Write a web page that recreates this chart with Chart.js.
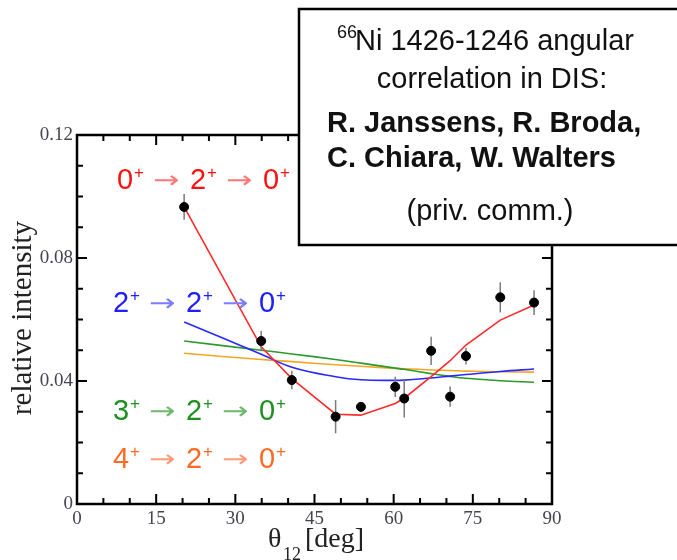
<!DOCTYPE html>
<html>
<head>
<meta charset="utf-8">
<script src="https://cdn.jsdelivr.net/npm/chart.js@4.4.0/dist/chart.umd.min.js"></script>
<style>
  html, body { margin: 0; padding: 0; background: #fff; }
  #wrap { width: 677px; height: 560px; }
</style>
</head>
<body>
<div id="wrap"><canvas id="c" width="677" height="560"></canvas></div>
<script>
// measured angular correlation points
const angles   = [20.3, 34.9, 40.7, 49.0, 53.8, 60.3, 62.0, 67.1, 70.7, 73.7, 80.2, 86.6];
const measured = [0.0966, 0.0530, 0.0403, 0.0284, 0.0316, 0.0381, 0.0343, 0.0498, 0.0349, 0.0481, 0.0672, 0.0655];
const errors   = [0.0042, 0.0033, 0.0030, 0.0054, 0.0016, 0.0033, 0.0062, 0.0046, 0.0033, 0.0027, 0.0049, 0.0040];

// calculated curves at the same angles
const fit020 = [0.0966, 0.0511, 0.0408, 0.0292, 0.0289, 0.0327, 0.0344, 0.0414, 0.0466, 0.0517, 0.0598, 0.0647];
const fit220 = [0.0592, 0.0487, 0.0445, 0.0414, 0.0404, 0.0402, 0.0403, 0.0410, 0.0416, 0.0421, 0.0431, 0.0439];
const fit320 = [0.0530, 0.0500, 0.0488, 0.0470, 0.0458, 0.0442, 0.0438, 0.0424, 0.0415, 0.0409, 0.0401, 0.0396];
const fit420 = [0.0490, 0.0470, 0.0463, 0.0453, 0.0448, 0.0441, 0.0440, 0.0436, 0.0434, 0.0432, 0.0430, 0.0429];

// axis ticks
const xMajor = [0, 15, 30, 45, 60, 75, 90];
const xMinor = [5, 10, 20, 25, 35, 40, 50, 55, 65, 70, 80, 85];
const yMajor = [0, 0.04, 0.08, 0.12];
const yMinor = [0.01, 0.02, 0.03, 0.05, 0.06, 0.07, 0.09, 0.10, 0.11];
const yLabels = ['0', '0.04', '0.08', '0.12'];

function pts(ys){ return angles.map((a, i) => ({x: a, y: ys[i]})); }

const SERIF = "'Liberation Serif', 'Times New Roman', serif";
const SANS = "'Liberation Sans', Arial, sans-serif";

const errorBars = {
    id: 'errorBars',
    beforeDatasetDraw(chart, args){
        if(args.index !== 0) return;
        const ctx = chart.ctx, xs = chart.scales.x, ys = chart.scales.y;
        ctx.save();
        ctx.strokeStyle = '#7a7a7a';
        ctx.lineWidth = 1.5;
        angles.forEach((a, i) => {
            const px = xs.getPixelForValue(a);
            ctx.beginPath();
            ctx.moveTo(px, ys.getPixelForValue(measured[i] - errors[i]));
            ctx.lineTo(px, ys.getPixelForValue(measured[i] + errors[i]));
            ctx.stroke();
        });
        ctx.restore();
    }
};

function drawTransition(ctx, x, y, first, color, arrowColor){
    const digits = [first, '2', '0'];
    digits.forEach((d, i) => {
        const dx = x + i * 73;
        ctx.fillStyle = color;
        ctx.font = '29px ' + SANS;
        ctx.fillText(d, dx, y);
        ctx.font = '17px ' + SANS;
        ctx.fillText('+', dx + 17, y - 11);
        if(i < 2){
            ctx.save();
            ctx.fillStyle = arrowColor;
            ctx.font = '24px "DejaVu Sans"';
            ctx.translate(dx + 36, y - 1);
            ctx.scale(1.32, 1);
            ctx.fillText('\u2192', 0, 0);
            ctx.restore();
        }
    });
}

const frame = {
    id: 'frame',
    afterDraw(chart){
        const ctx = chart.ctx, xs = chart.scales.x, ys = chart.scales.y;
        const a = chart.chartArea;
        ctx.save();
        ctx.strokeStyle = '#000';
        ctx.lineWidth = 2.5;
        ctx.strokeRect(a.left, a.top, a.right - a.left, a.bottom - a.top);
        ctx.lineWidth = 2;
        ctx.beginPath();
        xMajor.concat(xMinor).forEach(v => {
            const len = xMajor.includes(v) ? 10 : 6;
            const px = xs.getPixelForValue(v);
            ctx.moveTo(px, a.bottom); ctx.lineTo(px, a.bottom - len);
            ctx.moveTo(px, a.top); ctx.lineTo(px, a.top + len);
        });
        yMajor.concat(yMinor).forEach(v => {
            const len = yMajor.includes(v) ? 10 : 6;
            const py = ys.getPixelForValue(v);
            ctx.moveTo(a.left, py); ctx.lineTo(a.left + len, py);
            ctx.moveTo(a.right, py); ctx.lineTo(a.right - len, py);
        });
        ctx.stroke();

        // tick labels
        ctx.fillStyle = '#44444f';
        ctx.font = '19px ' + SERIF;
        ctx.textAlign = 'center';
        ctx.textBaseline = 'alphabetic';
        xMajor.forEach(v => ctx.fillText(String(v), xs.getPixelForValue(v), 524));
        ctx.textAlign = 'right';
        ctx.textBaseline = 'middle';
        yMajor.forEach((v, i) => ctx.fillText(yLabels[i], a.left - 4, ys.getPixelForValue(v)));

        // axis titles
        ctx.fillStyle = '#222';
        ctx.textBaseline = 'alphabetic';
        ctx.textAlign = 'center';
        ctx.save();
        ctx.translate(31, 318);
        ctx.rotate(-Math.PI / 2);
        ctx.font = '29px ' + SERIF;
        ctx.fillText('relative intensity', 0, 0);
        ctx.restore();
        ctx.textAlign = 'left';
        ctx.font = '28px ' + SERIF;
        ctx.fillText('\u03b8', 268, 547);
        ctx.font = '18px ' + SERIF;
        ctx.fillText('12', 283, 560);
        ctx.font = '28px ' + SERIF;
        ctx.fillText('[deg]', 305, 547);

        // transition labels
        ctx.textAlign = 'left';
        drawTransition(ctx, 117, 189, '0', '#ff1010', '#ff7878');
        drawTransition(ctx, 113, 312, '2', '#2020ff', '#7d7dff');
        drawTransition(ctx, 113, 420, '3', '#1f8f1f', '#6fb86f');
        drawTransition(ctx, 113, 468, '4', '#ff6a24', '#ff9c7a');

        // info box
        ctx.fillStyle = '#fff';
        ctx.fillRect(299, 9, 390, 236);
        ctx.lineWidth = 2.5;
        ctx.strokeStyle = '#000';
        ctx.strokeRect(299, 9, 390, 236);
        ctx.fillStyle = '#111';
        ctx.textAlign = 'left';
        ctx.font = '18px ' + SANS;
        ctx.fillText('66', 337, 38);
        ctx.font = '29px ' + SANS;
        ctx.fillText('Ni 1426-1246 angular', 355, 50);
        ctx.textAlign = 'center';
        ctx.fillText('correlation in DIS:', 492, 88);
        ctx.textAlign = 'left';
        ctx.font = 'bold 29px ' + SANS;
        ctx.fillText('R. Janssens, R. Broda,', 327, 132);
        ctx.fillText('C. Chiara, W. Walters', 327, 167);
        ctx.textAlign = 'center';
        ctx.font = '29px ' + SANS;
        ctx.fillText('(priv. comm.)', 490, 220);
        ctx.restore();
    }
};

new Chart(document.getElementById('c'), {
    type: 'scatter',
    data: {
        datasets: [
            { label: 'data', data: pts(measured), pointRadius: 4.5, pointBackgroundColor: '#000', pointBorderColor: '#000', showLine: false },
            { label: '0+ 2+ 0+', data: pts(fit020), showLine: true, borderColor: '#ff2a2a', borderWidth: 1.6, pointRadius: 0, tension: 0 },
            { label: '2+ 2+ 0+', data: pts(fit220), showLine: true, borderColor: '#2828ff', borderWidth: 1.6, pointRadius: 0, tension: 0.4 },
            { label: '3+ 2+ 0+', data: pts(fit320), showLine: true, borderColor: '#2a9a2a', borderWidth: 1.6, pointRadius: 0, tension: 0.4 },
            { label: '4+ 2+ 0+', data: pts(fit420), showLine: true, borderColor: '#f5a623', borderWidth: 1.6, pointRadius: 0, tension: 0.4 }
        ]
    },
    options: {
        responsive: false,
        animation: false,
        layout: { padding: { left: 77, right: 125, top: 135, bottom: 56 } },
        scales: {
            x: { type: 'linear', min: 0, max: 90, display: false },
            y: { type: 'linear', min: 0, max: 0.12, display: false }
        },
        plugins: { legend: { display: false }, tooltip: { enabled: false } }
    },
    plugins: [errorBars, frame]
});
</script>
</body>
</html>
